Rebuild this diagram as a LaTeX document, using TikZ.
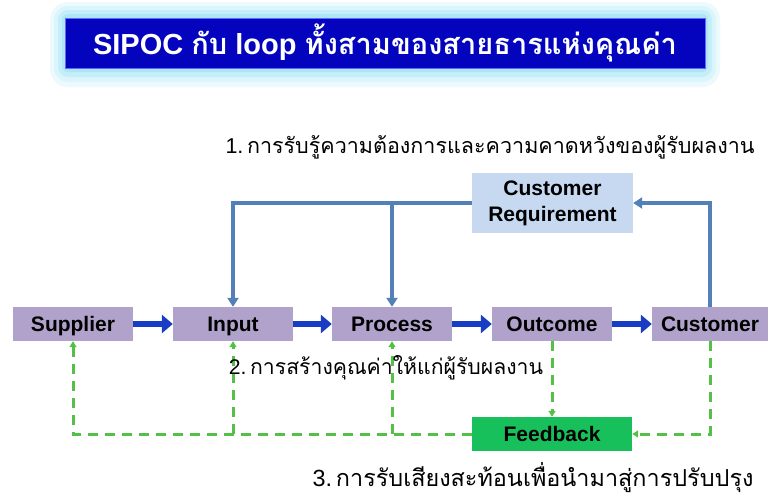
\documentclass[tikz,border=0pt]{standalone}
\usepackage{fontspec}
\setmainfont{Liberation Sans}
\newfontfamily\thai[Script=Thai]{Loma}
\usetikzlibrary{arrows.meta}
\definecolor{titleblue}{RGB}{4,4,190}
\definecolor{glowc}{RGB}{150,225,245}
\definecolor{boxpurple}{RGB}{176,162,202}
\definecolor{reqblue}{RGB}{198,217,241}
\definecolor{fbgreen}{RGB}{24,192,92}
\definecolor{loopblue}{RGB}{84,128,186}
\definecolor{flowblue}{RGB}{24,60,196}
\definecolor{dashgreen}{RGB}{84,192,72}
\tikzset{
  stage/.style={fill=boxpurple, minimum width=120pt, minimum height=34pt, inner sep=0pt,
    text height=15pt, text depth=1pt, font=\fontsize{21}{24}\selectfont\bfseries},
  flow/.style={flowblue, line width=6.5pt, -{Triangle[length=11pt,width=18pt]}},
  loopline/.style={loopblue, line width=3.2pt},
  looparrow/.style={loopline, -{Triangle[length=9pt,width=11pt]}},
  fbline/.style={dashgreen, line width=3pt, dash pattern=on 10pt off 7pt},
  fbarrow/.style={fbline, -{Triangle[length=6pt,width=7pt]}},
  thaitext/.style={inner sep=0pt}
}
\begin{document}
\begin{tikzpicture}[x=1pt,y=-1pt]
\useasboundingbox (0,0) rectangle (768,498);
\fill[white] (0,0) rectangle (768,498);
% glow
\fill[glowc!18, rounded corners=18pt] (50,2) rectangle (720,87);
\fill[glowc!35, rounded corners=14pt] (54,6) rectangle (716,82);
\fill[glowc!55, rounded corners=10pt] (58,10) rectangle (712,77);
\fill[glowc!80, rounded corners=6pt] (62,14) rectangle (708,72);
\node[fill=titleblue, draw=blue!60, line width=0.8pt, minimum width=640pt, minimum height=50pt, inner sep=0pt,
  text=white, font=\fontsize{29}{34}\selectfont\bfseries] (title) at (385,43)
  {SIPOC {\thai กับ} loop {\thai ทั้งสามของสายธารแห่งคุณค่า}};
% labels
\node[thaitext, font=\fontsize{21.5}{26}\selectfont] (t1) at (490,147) {1.\,{\thai การรับรู้ความต้องการและความคาดหวังของผู้รับผลงาน}};
% customer requirement
\node[fill=reqblue, minimum width=161pt, minimum height=60pt, inner sep=0pt, align=center,
  font=\fontsize{21}{26}\selectfont\bfseries] (req) at (552.5,203) {Customer\\Requirement};
% stages
\node[stage] (sup) at (73,324) {Supplier};
\node[stage] (inp) at (233,324) {Input};
\node[stage] (proc) at (392,324) {Process};
\node[stage] (out) at (552,324) {Outcome};
\node[stage, minimum width=116pt] (cust) at (710,324) {Customer};
\node[fill=fbgreen, minimum width=160pt, minimum height=34pt, inner sep=0pt,
  text height=15pt, text depth=1pt, font=\fontsize{21}{24}\selectfont\bfseries] (fbk) at (552,434) {Feedback};
% flow arrows
\draw[flow] (sup.east) -- (inp.west);
\draw[flow] (inp.east) -- (proc.west);
\draw[flow] (proc.east) -- (out.west);
\draw[flow] (out.east) -- (cust.west);
% requirement loop
\draw[looparrow] (cust.north) |- (req.east);
\draw[looparrow] (req.west) -| (inp.north);
\coordinate (pj) at (proc.north |- req.west);
\draw[looparrow] (pj) -- (proc.north);
% feedback loop
\draw[fbarrow] (out.south) -- (fbk.north);
\draw[fbarrow] (cust.south) |- (fbk.east);
\draw[fbarrow] (fbk.west) -| (sup.south);
\coordinate (ij) at (inp.south |- fbk.west);
\coordinate (qj) at (proc.south |- fbk.west);
\draw[fbarrow] (ij) -- (inp.south);
\draw[fbarrow] (qj) -- (proc.south);
% texts
\node[thaitext, font=\fontsize{21.2}{26}\selectfont] (t2) at (386,368) {2.\,{\thai การสร้างคุณค่าให้แก่ผู้รับผลงาน}};
\node[thaitext, font=\fontsize{23.4}{28}\selectfont] (t3) at (533,478) {3.\,{\thai การรับเสียงสะท้อนเพื่อนำมาสู่การปรับปรุง}};
\end{tikzpicture}
\end{document}
